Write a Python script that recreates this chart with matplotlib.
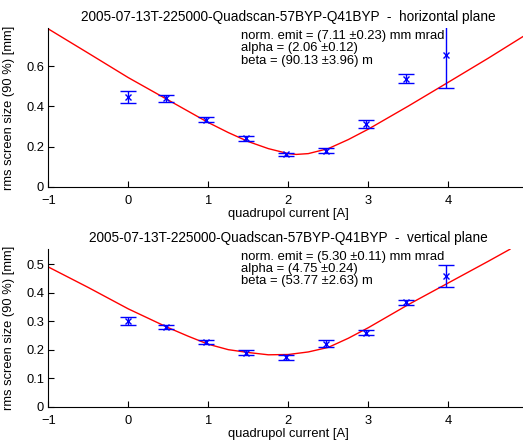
import numpy as np
import matplotlib
matplotlib.use("Agg")
import matplotlib.pyplot as plt

plt.rcParams['font.family'] = ['Liberation Sans', 'DejaVu Sans']
plt.rcParams['font.size'] = 9.3

# measured points (quadrupole current, rms size, error)
cur_h = [0.0, 0.47, 0.97, 1.47, 1.97, 2.47, 2.97, 3.47, 3.97]
size_h = [0.445, 0.44, 0.335, 0.241, 0.161, 0.18, 0.312, 0.538, 0.655]
err_h = [0.03, 0.016, 0.011, 0.012, 0.006, 0.012, 0.021, 0.023, 0.165]

cur_v = [0.0, 0.47, 0.97, 1.47, 1.97, 2.47, 2.97, 3.47, 3.97]
size_v = [0.30, 0.279, 0.228, 0.19, 0.173, 0.221, 0.26, 0.366, 0.457]
err_v = [0.014, 0.008, 0.007, 0.01, 0.01, 0.012, 0.01, 0.008, 0.039]

# fitted curves
fit_x_h = [-1, -0.5, 0, 0.5, 1, 1.25, 1.5, 1.75, 2, 2.1, 2.25, 2.5, 2.75, 3, 3.5, 4, 4.5, 4.93]
fit_y_h = [0.787, 0.666, 0.544, 0.432, 0.32, 0.27, 0.225, 0.19, 0.165, 0.161, 0.165,
           0.19, 0.235, 0.287, 0.402, 0.521, 0.641, 0.748]

fit_x_v = [-1, -0.5, 0, 0.5, 0.75, 1, 1.25, 1.5, 1.75, 2, 2.25, 2.5, 2.75, 3, 3.5, 4, 4.5, 4.77]
fit_y_v = [0.49, 0.418, 0.343, 0.277, 0.247, 0.219, 0.2, 0.19, 0.182, 0.183, 0.192,
           0.208, 0.24, 0.277, 0.358, 0.434, 0.51, 0.552]

xticks = [-1, 0, 1, 2, 3, 4]
yticks_h = [0, 0.2, 0.4, 0.6]
ytl_h = ['0', '0.2', '0.4', '0.6']
yticks_v = [0, 0.1, 0.2, 0.3, 0.4, 0.5]
ytl_v = ['0', '0.1', '0.2', '0.3', '0.4', '0.5']

txt_h = "norm. emit = (7.11 \u00b10.23) mm mrad\nalpha = (2.06 \u00b10.12)\nbeta = (90.13 \u00b13.96) m"
txt_v = "norm. emit = (5.30 \u00b10.11) mm mrad\nalpha = (4.75 \u00b10.24)\nbeta = (53.77 \u00b12.63) m"

W, H = 523, 443
fig = plt.figure(figsize=(W / 100, H / 100), dpi=100)
ax1 = fig.add_axes([48.3 / W, 1 - 186.7 / H, 480 / W, 158.4 / H])
ax2 = fig.add_axes([48.3 / W, 1 - 406.7 / H, 480 / W, 157.7 / H])

def draw(ax, cx, cy, ce, fx, fy, ymax, yt, ytl, title, txt):
	ax.plot(fx, fy, '-', color='#ff0000', lw=1.0, zorder=2)
	ax.errorbar(cx, cy, yerr=ce, fmt='x', color='#0000ff', ms=4, mew=1.0,
				elinewidth=1.0, capsize=5.5, capthick=1.2, zorder=3)
	ax.set_xlim(-1, 5)
	ax.set_ylim(0, ymax)
	ax.set_xticks(xticks)
	ax.set_yticks(yt)
	ax.set_yticklabels(ytl)
	ax.spines['top'].set_visible(False)
	ax.spines['right'].set_visible(False)
	ax.tick_params(direction='in', length=4, width=0.8, labelsize=9.3)
	ax.tick_params(axis='x', pad=6)
	ax.tick_params(axis='y', pad=3)
	ax.set_xlabel('quadrupol current [A]', labelpad=1)
	ax.set_ylabel('rms screen size (90 %) [mm]', labelpad=8)
	ax.set_title(title, fontsize=9.8, pad=5)
	ax.text(0.401, 0.99, txt, transform=ax.transAxes, va='top', ha='left',
			fontsize=9.4, linespacing=1.05)

draw(ax1, cur_h, size_h, err_h, fit_x_h, fit_y_h, 0.79, yticks_h, ytl_h,
	 '2005-07-13T-225000-Quadscan-57BYP-Q41BYP  -  horizontal plane', txt_h)
draw(ax2, cur_v, size_v, err_v, fit_x_v, fit_y_v, 0.553, yticks_v, ytl_v,
	 '2005-07-13T-225000-Quadscan-57BYP-Q41BYP  -  vertical plane', txt_v)

fig.savefig('out.png', dpi=100)
